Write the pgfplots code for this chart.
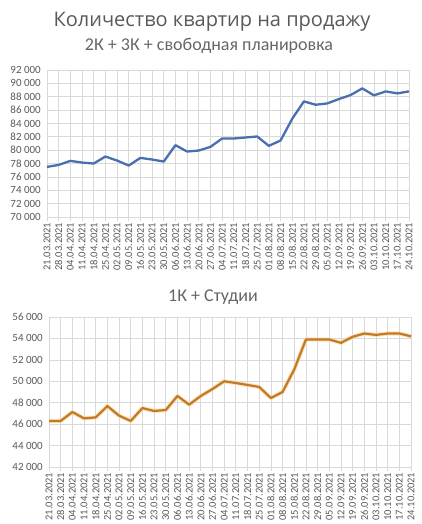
\documentclass[border=0pt]{standalone}
\usepackage{pgfplots}
\pgfplotsset{compat=1.18}
\usepackage{pgfplotstable}
\usepackage{fontspec}
\setmainfont{Carlito}
\newfontfamily\titlefont{Open Sans}
\definecolor{txt}{HTML}{595959}
\definecolor{subt}{HTML}{666666}
\definecolor{grd}{HTML}{D9D9D9}
\definecolor{blueL}{HTML}{4A6FAE}
\definecolor{orL}{HTML}{C47A22}
\definecolor{orGlow}{HTML}{F6D8A8}

\pgfplotstableread{
x y
0 77500
1 77800
2 78400
3 78150
4 78000
5 79050
6 78450
7 77700
8 78850
9 78600
10 78300
11 80750
12 79800
13 79950
14 80500
15 81750
16 81750
17 81900
18 82050
19 80650
20 81450
21 84700
22 87300
23 86800
24 87000
25 87650
26 88250
27 89250
28 88200
29 88800
30 88500
31 88800
}\topdata

\pgfplotstableread{
x y
0 46300
1 46300
2 47130
3 46540
4 46630
5 47690
6 46790
7 46300
8 47500
9 47230
10 47320
11 48630
12 47820
13 48630
14 49280
15 50000
16 49840
17 49660
18 49470
19 48440
20 49000
21 51100
22 53900
23 53900
24 53900
25 53590
26 54150
27 54460
28 54330
29 54460
30 54460
31 54200
}\botdata

\pgfplotsset{
  excel/.style={
    scale only axis,
    width=362pt,
    xmin=0, xmax=31,
    xtick={0,...,31},
    xticklabels={21.03.2021,28.03.2021,04.04.2021,11.04.2021,18.04.2021,25.04.2021,02.05.2021,09.05.2021,16.05.2021,23.05.2021,30.05.2021,06.06.2021,13.06.2021,20.06.2021,27.06.2021,04.07.2021,11.07.2021,18.07.2021,25.07.2021,01.08.2021,08.08.2021,15.08.2021,22.08.2021,29.08.2021,05.09.2021,12.09.2021,19.09.2021,26.09.2021,03.10.2021,10.10.2021,17.10.2021,24.10.2021},
    xticklabel style={rotate=90, anchor=east, font=\fontsize{10.5}{10.5}\selectfont, text=txt, inner sep=1.5pt},
    yticklabel style={font=\fontsize{11}{11}\selectfont, text=txt, inner sep=2pt},
    scaled y ticks=false,
    /pgf/number format/.cd, fixed, 1000 sep={\space}, assume math mode=true,
    /pgfplots/.cd,
    grid=major,
    major grid style={grd, line width=0.7pt},
    axis line style={draw=none},
    tick align=outside,
    tick pos=left,
    major tick length=4pt,
    xtick style={grd, line width=0.7pt},
    ytick style={draw=none},
    clip=false,
  }
}

\begin{document}
\begin{tikzpicture}
\useasboundingbox (0,0) rectangle (421pt,-524pt);
\node[anchor=base, font=\titlefont\fontsize{20}{20}\selectfont, text=txt] at (212pt,-27pt) {Количество квартир на продажу};
\node[anchor=base, font=\fontsize{18}{18}\selectfont, text=subt] at (209pt,-51pt) {2К + 3К + свободная планировка};
\node[anchor=base, font=\fontsize{18}{18}\selectfont, text=subt] at (213pt,-301pt) {1К + Студии};

\begin{axis}[excel, at={(47pt,-217pt)}, anchor=south west, height=147pt,
  ymin=70000, ymax=92000, ytick={70000,72000,...,92000}]
\addplot[blueL, line width=2.3pt, line join=round, no marks] table {\topdata};
\end{axis}

\begin{axis}[excel, at={(49pt,-467pt)}, anchor=south west, height=150pt,
  ymin=42000, ymax=56000, ytick={42000,44000,...,56000}]
\addplot[orGlow, line width=4.2pt, line join=round, no marks, opacity=0.7] table {\botdata};
\addplot[orL, line width=2.2pt, line join=round, no marks] table {\botdata};
\end{axis}
\end{tikzpicture}
\end{document}
